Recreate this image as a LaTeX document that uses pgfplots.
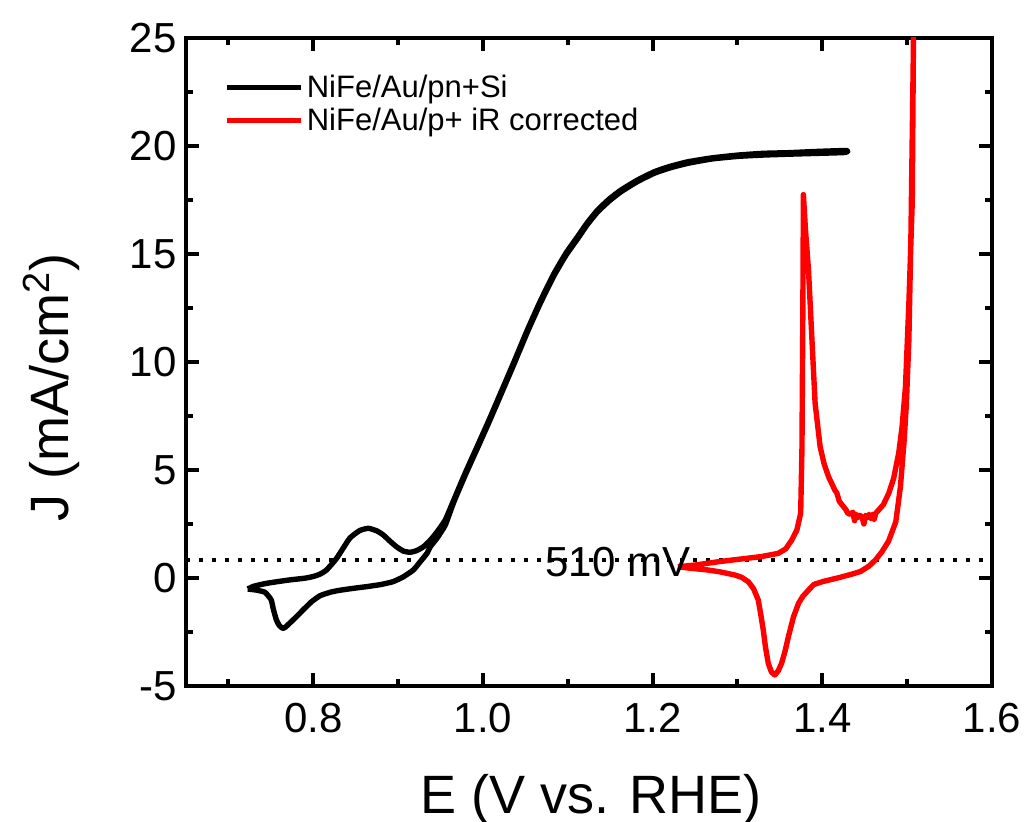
\documentclass[border=0pt]{standalone}
\usepackage{pgfplots}
\pgfplotsset{compat=1.18}
\usepackage{fontspec}
\setmainfont{Liberation Sans}

% Cyclic voltammogram of the buried-junction photoanode
\pgfplotstableread{
E J
0.7228 -0.51
0.7300 -0.38
0.7446 -0.25
0.7700 -0.10
0.7900 -0.01
0.8000 0.07
0.8080 0.18
0.8156 0.37
0.8275 0.91
0.8430 1.84
0.8550 2.20
0.8650 2.30
0.8750 2.18
0.8826 1.99
0.8900 1.72
0.8980 1.45
0.9060 1.25
0.9140 1.19
0.9220 1.27
0.9300 1.45
0.9380 1.75
0.9460 2.14
0.9556 2.69
0.9655 3.60
0.9790 4.85
0.9931 6.08
1.0070 7.30
1.0207 8.55
1.0360 9.95
1.0523 11.48
1.0680 12.85
1.0838 14.10
1.0980 15.05
1.1115 15.80
1.1230 16.45
1.1352 17.04
1.1490 17.55
1.1627 17.96
1.1820 18.42
1.2021 18.81
1.2200 19.05
1.2417 19.27
1.2700 19.45
1.3008 19.58
1.3300 19.66
1.3600 19.69
1.3950 19.75
1.4290 19.79
1.4270 19.70
1.3950 19.66
1.3600 19.62
1.3300 19.58
1.3008 19.52
1.2700 19.40
1.2417 19.20
1.2200 18.98
1.2021 18.74
1.1820 18.35
1.1627 17.88
1.1490 17.46
1.1352 16.95
1.1230 16.36
1.1115 15.70
1.0980 14.95
1.0838 14.00
1.0680 12.75
1.0523 11.38
1.0360 9.85
1.0207 8.45
1.0070 7.20
0.9931 5.98
0.9790 4.75
0.9655 3.50
0.9556 2.45
0.9460 1.85
0.9380 1.45
0.9340 1.14
0.9260 0.75
0.9180 0.37
0.9060 0.05
0.8940 -0.17
0.8800 -0.30
0.8630 -0.40
0.8470 -0.48
0.8310 -0.57
0.8200 -0.66
0.8080 -0.82
0.7980 -1.10
0.7880 -1.48
0.7800 -1.80
0.7720 -2.10
0.7670 -2.28
0.7640 -2.33
0.7600 -2.20
0.7565 -1.94
0.7530 -1.45
0.7505 -1.02
0.7460 -0.78
0.7426 -0.65
0.7330 -0.56
0.7228 -0.51
}\pnSi

% NiFe on p+ Si, iR corrected
\pgfplotstableread{
E J
1.2298 0.52
1.2500 0.60
1.2770 0.75
1.3000 0.86
1.3280 0.99
1.3480 1.14
1.3570 1.35
1.3640 1.76
1.3700 2.22
1.3745 3.00
1.3760 6.00
1.3770 12.00
1.3777 17.75
1.3800 16.20
1.3837 14.26
1.3876 11.17
1.3915 8.09
1.3974 6.08
1.4020 5.30
1.4073 4.69
1.4120 4.30
1.4150 4.05
1.4170 3.95
1.4200 3.55
1.4230 3.40
1.4260 3.25
1.4280 3.15
1.4300 3.00
1.4330 2.95
1.4360 3.05
1.4380 2.65
1.4400 2.95
1.4420 2.80
1.4440 2.90
1.4467 2.84
1.4490 2.50
1.4510 2.90
1.4530 2.80
1.4550 2.95
1.4570 2.75
1.4590 2.95
1.4610 2.70
1.4630 3.00
1.4665 3.15
1.4720 3.40
1.4783 3.92
1.4840 4.60
1.4900 5.77
1.4940 7.00
1.4980 8.86
1.5020 12.70
1.5060 17.40
1.5075 25.50
1.5090 28.00
1.5085 28.00
1.5065 22.00
1.5045 16.00
1.5020 11.00
1.4990 8.00
1.4965 6.40
1.4920 4.20
1.4866 2.60
1.4780 1.70
1.4700 1.20
1.4630 0.85
1.4550 0.55
1.4450 0.30
1.4350 0.18
1.4200 0.02
1.4000 -0.17
1.3900 -0.30
1.3837 -0.56
1.3770 -0.85
1.3720 -1.17
1.3660 -1.80
1.3600 -2.72
1.3560 -3.40
1.3520 -3.95
1.3480 -4.30
1.3440 -4.49
1.3400 -4.35
1.3363 -3.95
1.3330 -3.20
1.3304 -2.41
1.3275 -1.70
1.3245 -1.02
1.3190 -0.50
1.3127 -0.17
1.3050 0.03
1.2968 0.14
1.2800 0.28
1.2653 0.37
1.2450 0.45
1.2298 0.52
}\pplus

\begin{document}
\begin{tikzpicture}
\path[use as bounding box] (-93pt,-68pt) rectangle (420pt,343pt);
\begin{axis}[
  at={(0,0)}, anchor=south west,
  scale only axis,
  width=403pt, height=324pt,
  xmin=0.65, xmax=1.6,
  ymin=-5, ymax=25,
  xtick={0.8,1.0,1.2,1.4,1.6},
  minor xtick={0.7,0.9,1.1,1.3,1.5},
  ytick={-5,0,5,10,15,20,25},
  minor ytick={-2.5,2.5,7.5,12.5,17.5,22.5},
  x tick label style={/pgf/number format/fixed, /pgf/number format/fixed zerofill, /pgf/number format/precision=1},
  /pgf/number format/assume math mode=true,
  tick align=inside,
  axis line style={line width=2pt},
  every tick/.style={line width=2pt, black},
  major tick length=6.5pt,
  minor tick length=3.5pt,
  tick label style={font=\fontsize{21}{24}\selectfont},
  x tick label style={inner sep=0pt, yshift=-8.5pt},
  y tick label style={inner sep=0pt, xshift=-4.5pt},
  xlabel={E (V vs. RHE)},
  ylabel={J (mA/cm\textsuperscript{2})},
  label style={font=\fontsize{27}{30}\selectfont},
  xlabel style={at={(axis description cs:0.5025,-0.196)}, anchor=base},
  ylabel style={at={(axis description cs:-0.1464,0.46)}, anchor=base},
  legend style={at={(axis description cs:0.040,0.955)}, anchor=north west,
    draw=none, fill=none, font=\fontsize{15.5}{18}\selectfont,
    nodes={inner sep=1.5pt}, row sep=1pt},
  legend cell align=left,
  legend image code/.code={\draw[#1, line width=2.6pt] (0pt,0pt) -- (37pt,0pt);},
]
\addplot[black, line width=1.6pt, dash pattern=on 2pt off 4.5pt, forget plot]
  coordinates {(0.65,0.83) (1.6,0.83)};
\addplot[black, line width=2.7pt, line join=round, smooth, tension=0.3] table {\pnSi};
\addlegendentry{NiFe/Au/pn+Si}
\addplot[red, line width=2.7pt, line join=round] table {\pplus};
\addlegendentry{NiFe/Au/p+ iR corrected}
\node[anchor=base, font=\fontsize{21}{24}\selectfont] at (axis cs:1.159,0.05) {510 mV};
\end{axis}
\end{tikzpicture}
\end{document}
